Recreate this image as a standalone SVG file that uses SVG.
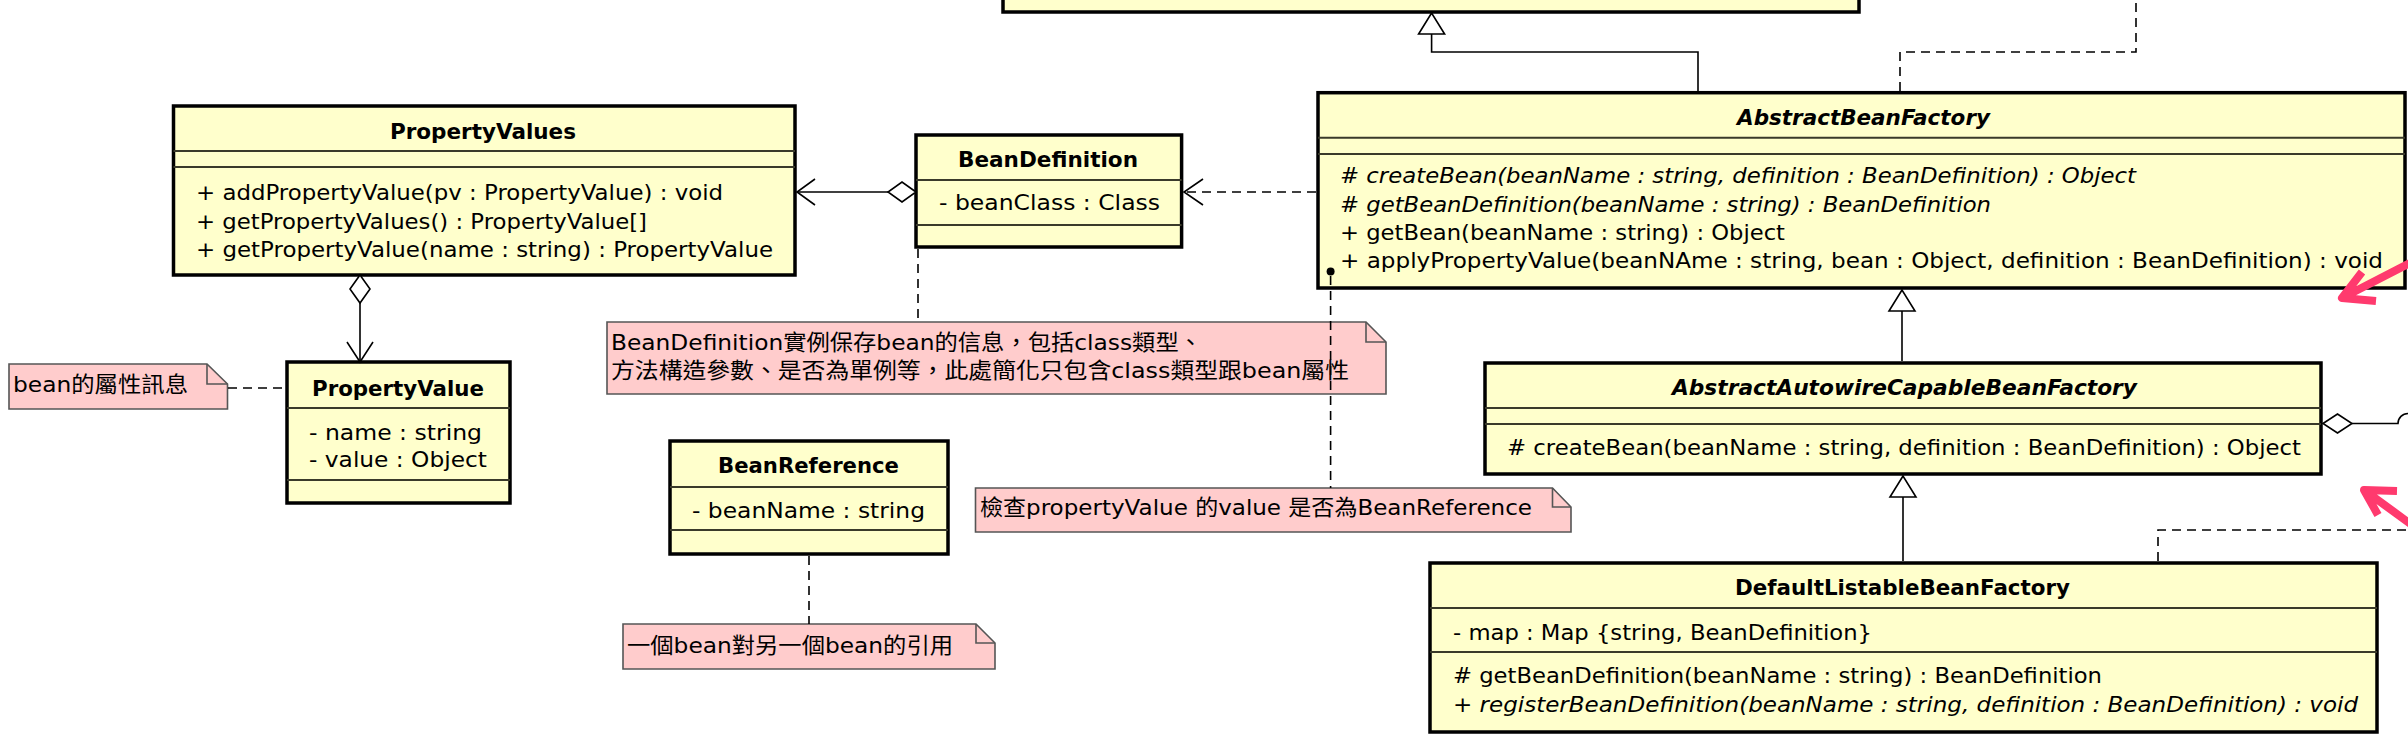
<svg xmlns="http://www.w3.org/2000/svg" width="2408" height="744" viewBox="0 0 2408 744">
<style>
.box{fill:#FFFFCC;stroke:#000;stroke-width:3.5}
.sep{stroke:#3a3a2a;stroke-width:2;fill:none}
.note{fill:#FFCCCC;stroke:#555;stroke-width:1.6}
.fold{fill:none;stroke:#555;stroke-width:1.6}
text{font-family:"DejaVu Sans","Noto Sans CJK TC",sans-serif;font-size:22px;fill:#000}
.t{font-weight:bold}
.i{font-style:italic}
.ln{fill:none;stroke:#000;stroke-width:1.6}
.dash{fill:none;stroke:#000;stroke-width:1.6;stroke-dasharray:9 6}
.hollow{fill:#fff;stroke:#000;stroke-width:1.6}
.pink{fill:none;stroke:#FF3A6E;stroke-width:8;stroke-linejoin:round}
</style>

<g id="TopClass">
<rect class="box" x="1003" y="-20" width="856" height="32"/>
</g>

<g id="PropertyValues">
<rect class="box" x="173.5" y="106" width="621.5" height="169"/>
<line class="sep" x1="173.5" y1="151" x2="795" y2="151"/>
<line class="sep" x1="173.5" y1="167" x2="795" y2="167"/>
<text class="t" x="390" y="139" textLength="186" lengthAdjust="spacingAndGlyphs">PropertyValues</text>
<text x="196" y="200" textLength="527" lengthAdjust="spacingAndGlyphs">+ addPropertyValue(pv : PropertyValue) : void</text>
<text x="196" y="229" textLength="451" lengthAdjust="spacingAndGlyphs">+ getPropertyValues() : PropertyValue[]</text>
<text x="196" y="257" textLength="577" lengthAdjust="spacingAndGlyphs">+ getPropertyValue(name : string) : PropertyValue</text>
</g>

<g id="PropertyValue">
<rect class="box" x="287" y="362" width="223" height="141"/>
<line class="sep" x1="287" y1="408" x2="510" y2="408"/>
<line class="sep" x1="287" y1="480" x2="510" y2="480"/>
<text class="t" x="312" y="396" textLength="172" lengthAdjust="spacingAndGlyphs">PropertyValue</text>
<text x="309" y="440" textLength="173" lengthAdjust="spacingAndGlyphs">- name : string</text>
<text x="309" y="467" textLength="178" lengthAdjust="spacingAndGlyphs">- value : Object</text>
</g>

<g id="BeanDefinition">
<rect class="box" x="916" y="135" width="265.6" height="112"/>
<line class="sep" x1="916" y1="180" x2="1181.6" y2="180"/>
<line class="sep" x1="916" y1="225" x2="1181.6" y2="225"/>
<text class="t" x="958" y="167" textLength="180" lengthAdjust="spacingAndGlyphs">BeanDefinition</text>
<text x="939" y="210" textLength="221" lengthAdjust="spacingAndGlyphs">- beanClass : Class</text>
</g>

<g id="BeanReference">
<rect class="box" x="670" y="441" width="278" height="113"/>
<line class="sep" x1="670" y1="487" x2="948" y2="487"/>
<line class="sep" x1="670" y1="530" x2="948" y2="530"/>
<text class="t" x="718" y="473" textLength="181" lengthAdjust="spacingAndGlyphs">BeanReference</text>
<text x="692" y="518" textLength="233" lengthAdjust="spacingAndGlyphs">- beanName : string</text>
</g>

<g id="AbstractBeanFactory">
<rect class="box" x="1318" y="92.7" width="1087" height="195.3"/>
<line class="sep" x1="1318" y1="137.7" x2="2405" y2="137.7"/>
<line class="sep" x1="1318" y1="154" x2="2405" y2="154"/>
<text class="t i" x="1737" y="125" textLength="253" lengthAdjust="spacingAndGlyphs">AbstractBeanFactory</text>
<text class="i" x="1340" y="183" textLength="796" lengthAdjust="spacingAndGlyphs"># createBean(beanName : string, definition : BeanDefinition) : Object</text>
<text class="i" x="1340" y="212" textLength="651" lengthAdjust="spacingAndGlyphs"># getBeanDefinition(beanName : string) : BeanDefinition</text>
<text x="1340" y="240" textLength="445" lengthAdjust="spacingAndGlyphs">+ getBean(beanName : string) : Object</text>
<text x="1340" y="268" textLength="1043" lengthAdjust="spacingAndGlyphs">+ applyPropertyValue(beanNAme : string, bean : Object, definition : BeanDefinition) : void</text>
</g>

<g id="AbstractAutowireCapableBeanFactory">
<rect class="box" x="1485" y="363" width="836" height="111"/>
<line class="sep" x1="1485" y1="408" x2="2321" y2="408"/>
<line class="sep" x1="1485" y1="424" x2="2321" y2="424"/>
<text class="t i" x="1672" y="395" textLength="465" lengthAdjust="spacingAndGlyphs">AbstractAutowireCapableBeanFactory</text>
<text x="1507" y="455" textLength="794" lengthAdjust="spacingAndGlyphs"># createBean(beanName : string, definition : BeanDefinition) : Object</text>
</g>

<g id="DefaultListableBeanFactory">
<rect class="box" x="1430" y="563" width="947" height="169"/>
<line class="sep" x1="1430" y1="608" x2="2377" y2="608"/>
<line class="sep" x1="1430" y1="652" x2="2377" y2="652"/>
<text class="t" x="1735" y="595" textLength="335" lengthAdjust="spacingAndGlyphs">DefaultListableBeanFactory</text>
<text x="1453" y="640" textLength="419" lengthAdjust="spacingAndGlyphs">- map : Map {string, BeanDefinition}</text>
<text x="1453" y="683" textLength="649" lengthAdjust="spacingAndGlyphs"># getBeanDefinition(beanName : string) : BeanDefinition</text>
<text class="i" x="1453" y="712" textLength="905" lengthAdjust="spacingAndGlyphs">+ registerBeanDefinition(beanName : string, definition : BeanDefinition) : void</text>
</g>

<g id="NotePropertyValue">
<polygon class="note" points="9,364 207,364 227.5,384 227.5,409 9,409"/>
<path class="fold" d="M207,364 V384 H227.5"/>
<text x="13" y="392" textLength="175" lengthAdjust="spacingAndGlyphs">bean的屬性訊息</text>
</g>

<g id="NoteBeanDefinition">
<polygon class="note" points="607,322 1366,322 1386,342 1386,394 607,394"/>
<path class="fold" d="M1366,322 V342 H1386"/>
<text x="611" y="350" textLength="591" lengthAdjust="spacingAndGlyphs">BeanDefinition實例保存bean的信息，包括class類型、</text>
<text x="611" y="378" textLength="738" lengthAdjust="spacingAndGlyphs">方法構造參數、是否為單例等，此處簡化只包含class類型跟bean屬性</text>
</g>

<g id="NoteBeanReference">
<polygon class="note" points="623,624 976,624 995,643 995,669 623,669"/>
<path class="fold" d="M976,624 V643 H995"/>
<text x="627" y="653" textLength="326" lengthAdjust="spacingAndGlyphs">一個bean對另一個bean的引用</text>
</g>

<g id="NoteApply">
<polygon class="note" points="975.5,488 1552.5,488 1571,507 1571,532 975.5,532"/>
<path class="fold" d="M1552.5,488 V507 H1571"/>
<text x="980" y="515" textLength="552" lengthAdjust="spacingAndGlyphs">檢查propertyValue 的value 是否為BeanReference</text>
</g>

<g id="connectors">
<!-- PropertyValues <>- PropertyValue -->
<polygon class="hollow" points="360,275 370,289 360,303 350,289"/>
<line class="ln" x1="360" y1="303" x2="360" y2="361"/>
<polyline class="ln" points="347,342 360,362 373,342"/>
<!-- BeanDefinition <>- PropertyValues -->
<polygon class="hollow" points="916,192 902,182 888,192 902,202"/>
<line class="ln" x1="888" y1="192" x2="797" y2="192"/>
<polyline class="ln" points="815,179 797,192 815,205"/>
<!-- AbstractBeanFactory ..> BeanDefinition -->
<line class="dash" x1="1316" y1="192" x2="1184" y2="192"/>
<polyline class="ln" points="1203,179 1184,192 1203,205"/>
<!-- AbstractBeanFactory -> top class -->
<polyline class="ln" points="1698,91 1698,52 1431.6,52 1431.6,34"/>
<polygon class="hollow" points="1431.6,13 1418.6,34 1444.6,34"/>
<polyline class="dash" points="1900,91 1900,52 2136,52 2136,0"/>
<!-- AACBF -> AbstractBeanFactory -->
<line class="ln" x1="1902" y1="361" x2="1902" y2="311"/>
<polygon class="hollow" points="1902,290 1889,311 1915,311"/>
<!-- DLBF -> AACBF -->
<line class="ln" x1="1903" y1="561" x2="1903" y2="497"/>
<polygon class="hollow" points="1903,476 1890,497 1916,497"/>
<!-- AACBF aggregation right -->
<polygon class="hollow" points="2323,423.5 2337.5,414 2352,423.5 2337.5,433"/>
<path class="ln" d="M2352,423.5 H2398 A10,10 0 0 1 2408,413.5"/>
<!-- DLBF dashed up-right -->
<polyline class="dash" points="2158,561 2158,530 2408,530"/>
<!-- notes -->
<line class="dash" x1="228" y1="388" x2="285" y2="388"/>
<line class="dash" x1="918" y1="249" x2="918" y2="322"/>
<line class="dash" x1="809" y1="556" x2="809" y2="624"/>
<circle cx="1330.6" cy="271.5" r="4" fill="#000"/>
<line class="dash" x1="1330.6" y1="276" x2="1330.6" y2="488"/>
<!-- pink annotation arrows -->
<path class="pink" d="M2412,262 L2342,298 M2362,272 L2342,298 L2376,301"/>
<path class="pink" d="M2412,525 L2364,490 M2397,491 L2364,490 L2378,515"/>
</g>
</svg>
